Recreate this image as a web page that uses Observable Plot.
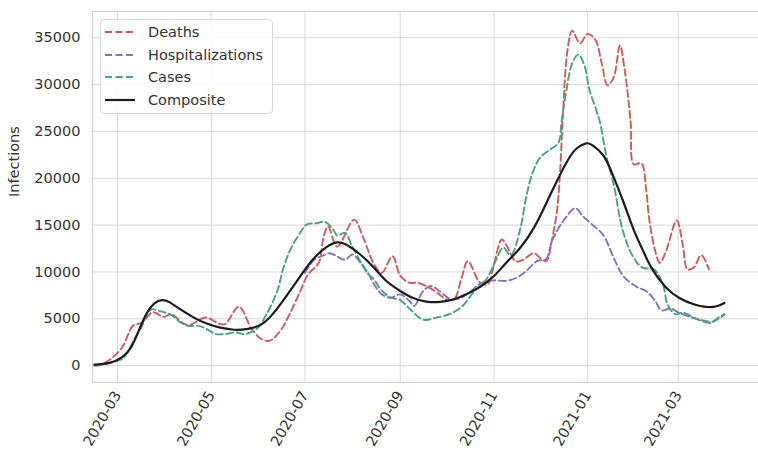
<!DOCTYPE html>
<html><head><meta charset="utf-8">
<script src="https://cdn.jsdelivr.net/npm/d3@7"></script>
<script src="https://cdn.jsdelivr.net/npm/@observablehq/plot@0.6"></script>
<style>
body{margin:0;background:#fff;}
#wrap{position:relative;width:758px;height:451px;font-family:"DejaVu Sans",sans-serif;}
#legend{position:absolute;left:100px;top:19px;width:173px;height:95px;border:1px solid #d8d8d8;border-radius:4px;background:rgba(255,255,255,0.85);box-sizing:border-box;}
.row{position:absolute;left:0;height:22px;display:flex;align-items:center;font-size:14.5px;color:#333;white-space:nowrap;}
.row svg{margin-left:4px;margin-right:13px;}
</style></head>
<body><div id="wrap"><div id="legend"></div></div>
<script>
// ---- data ----
const seriesNames = ["Deaths", "Hospitalizations", "Cases", "Composite"];
const seriesColors = ["#d4595d", "#8474b8", "#45a57a", "#1c1c1c"];

const deathDates = ["2020-02-15","2020-02-19","2020-02-24","2020-03-04","2020-03-08","2020-03-11","2020-03-17","2020-03-24","2020-03-31","2020-04-05","2020-04-13","2020-04-17","2020-04-24","2020-04-28","2020-05-06","2020-05-10","2020-05-19","2020-05-27","2020-06-02","2020-06-08","2020-06-15","2020-06-21","2020-06-28","2020-07-03","2020-07-10","2020-07-13","2020-07-16","2020-07-22","2020-08-02","2020-08-08","2020-08-15","2020-08-20","2020-08-27","2020-09-01","2020-09-07","2020-09-12","2020-09-18","2020-09-25","2020-10-01","2020-10-06","2020-10-11","2020-10-15","2020-10-23","2020-10-28","2020-11-01","2020-11-06","2020-11-09","2020-11-15","2020-11-20","2020-11-27","2020-12-01","2020-12-05","2020-12-09","2020-12-12","2020-12-14","2020-12-16","2020-12-19","2020-12-22","2020-12-27","2021-01-01","2021-01-06","2021-01-10","2021-01-14","2021-01-18","2021-01-22","2021-01-25","2021-01-29","2021-01-31","2021-02-05","2021-02-08","2021-02-10","2021-02-14","2021-02-17","2021-02-21","2021-02-28","2021-03-04","2021-03-07","2021-03-11","2021-03-16","2021-03-21"];
const deathValues = [0,150,530,1940,3370,4250,4600,5700,5200,5490,4490,4350,4960,5130,4490,4430,6300,4000,2900,2660,3720,5490,7970,9740,10970,13630,14870,12700,15580,13630,10800,9910,11680,9600,8850,8850,8500,7790,7080,7080,9380,11150,8850,8700,10800,13460,12900,11150,11300,12000,11500,11150,13630,16460,20500,27080,33800,35760,34400,35400,34800,32390,29920,30800,34170,31680,26020,21500,21590,18940,15750,12210,10970,12210,15500,12800,10270,10440,11800,10270];

const hospDates = ["2020-07-01","2020-07-07","2020-07-12","2020-07-17","2020-07-22","2020-07-27","2020-08-01","2020-08-06","2020-08-11","2020-08-15","2020-08-20","2020-08-26","2020-09-01","2020-09-07","2020-09-10","2020-09-16","2020-09-21","2020-09-27","2020-10-04","2020-10-10","2020-10-16","2020-10-23","2020-11-01","2020-11-09","2020-11-16","2020-11-22","2020-11-29","2020-12-05","2020-12-09","2020-12-16","2020-12-24","2020-12-29","2021-01-04","2021-01-11","2021-01-18","2021-01-24","2021-02-02","2021-02-08","2021-02-14","2021-02-18","2021-02-24","2021-03-02","2021-03-15","2021-03-23","2021-03-27","2021-03-31"];
const hospValues = [9900,11300,11700,12000,11650,11300,11860,11000,9910,8680,7610,7250,7600,6900,6370,7970,8500,7900,7080,7200,7800,8750,9100,9050,9400,10100,11150,11400,13400,15400,16800,15930,15050,13990,11500,9600,8400,7970,6900,5900,6100,5600,4900,4700,5000,5400];

const caseDates = ["2020-02-15","2020-02-20","2020-02-26","2020-03-04","2020-03-08","2020-03-12","2020-03-17","2020-03-20","2020-03-23","2020-03-28","2020-04-01","2020-04-06","2020-04-11","2020-04-16","2020-04-23","2020-04-28","2020-05-04","2020-05-10","2020-05-17","2020-05-23","2020-05-31","2020-06-06","2020-06-13","2020-06-17","2020-06-22","2020-06-28","2020-07-02","2020-07-09","2020-07-14","2020-07-19","2020-07-22","2020-07-27","2020-08-01","2020-08-06","2020-08-11","2020-08-15","2020-08-19","2020-08-26","2020-09-01","2020-09-07","2020-09-16","2020-09-25","2020-10-04","2020-10-12","2020-10-19","2020-10-27","2020-11-03","2020-11-07","2020-11-12","2020-11-18","2020-11-22","2020-11-26","2020-12-01","2020-12-07","2020-12-13","2020-12-15","2020-12-18","2020-12-22","2020-12-26","2020-12-30","2021-01-02","2021-01-07","2021-01-09","2021-01-13","2021-01-18","2021-01-24","2021-01-31","2021-02-06","2021-02-13","2021-02-19","2021-02-22","2021-02-27","2021-03-04","2021-03-11","2021-03-22","2021-03-27","2021-03-31"];
const caseValues = [0,100,350,710,1590,2830,4250,5490,6020,5840,5660,5310,4600,4250,4250,3900,3370,3370,3540,3370,4000,5490,7970,10440,12560,14200,15050,15220,15350,14600,13900,14160,12650,11150,9800,9200,8200,7250,7000,6100,4900,5150,5550,6450,7900,9200,11500,12600,11800,14500,18000,20500,22200,23000,23800,26000,29200,32300,33200,32000,29560,27080,26000,22500,19300,14340,11500,10440,10300,8680,6550,5490,5660,5130,4550,5130,5490];

const compDates = ["2020-02-15","2020-02-25","2020-03-04","2020-03-10","2020-03-15","2020-03-20","2020-03-25","2020-03-30","2020-04-04","2020-04-11","2020-04-20","2020-04-28","2020-05-07","2020-05-16","2020-05-24","2020-06-02","2020-06-10","2020-06-19","2020-06-28","2020-07-06","2020-07-15","2020-07-22","2020-07-28","2020-08-06","2020-08-15","2020-08-23","2020-09-01","2020-09-09","2020-09-18","2020-09-27","2020-10-06","2020-10-14","2020-10-23","2020-11-01","2020-11-09","2020-11-18","2020-11-27","2020-12-05","2020-12-12","2020-12-19","2020-12-25","2020-12-31","2021-01-04","2021-01-11","2021-01-17","2021-01-24","2021-01-31","2021-02-06","2021-02-12","2021-02-21","2021-03-02","2021-03-11","2021-03-19","2021-03-26","2021-03-31"];
const compValues = [100,300,900,2000,3800,5600,6650,7000,6750,6000,5100,4500,4050,3830,3900,4350,5500,7450,9550,11300,12650,13150,12900,11860,10440,9030,7970,7250,6830,6800,7080,7610,8400,9560,10970,12560,14700,17300,19700,21900,23200,23720,23540,22480,20500,17600,14500,12300,10300,8350,7190,6550,6270,6340,6690];

const xDomain = ["2020-02-13T17:00Z", "2021-04-22T05:00Z"];
const yDomain = [-1800, 37800];
const xTicks = ["2020-03-01","2020-05-01","2020-07-01","2020-09-01","2020-11-01","2021-01-01","2021-03-01"];
const yTicks = [0,5000,10000,15000,20000,25000,30000,35000];
const yLabel = "Infections";

// ---- build ----
const toRows = (dates, values) => dates.map((d, i) => ({date: new Date(d), value: values[i]}));
const series = [
  toRows(deathDates, deathValues),
  toRows(hospDates, hospValues),
  toRows(caseDates, caseValues),
  toRows(compDates, compValues)
];
const dashed = [true, true, true, false];

const chart = Plot.plot({
  width: 758, height: 451,
  marginLeft: 92, marginRight: 0, marginTop: 11, marginBottom: 69,
  style: {fontFamily: "'DejaVu Sans', sans-serif", fontSize: "14.5px", color: "#333", background: "white"},
  x: {type: "utc", domain: xDomain.map(d => new Date(d))},
  y: {domain: yDomain},
  marks: [
    Plot.gridX(xTicks.map(d => new Date(d)), {stroke: "#d9d9d9", strokeOpacity: 1, strokeWidth: 1}),
    Plot.gridY(yTicks, {stroke: "#d9d9d9", strokeOpacity: 1, strokeWidth: 1}),
    Plot.frame({stroke: "#d0d0d0"}),
    Plot.axisX(xTicks.map(d => new Date(d)), {tickSize: 0, tickPadding: 10, tickRotate: -60, tickFormat: d3.utcFormat("%Y-%m"), label: null}),
    Plot.axisY(yTicks, {tickSize: 0, tickPadding: 12, tickFormat: d => String(d), label: null}),
    Plot.text([yLabel], {frameAnchor: "left", dx: -78, rotate: -90, text: d => d, fontSize: 14.5}),
    ...series.map((rows, i) => Plot.line(rows, {
      x: "date", y: "value", stroke: seriesColors[i],
      strokeWidth: dashed[i] ? 1.9 : 2.2,
      strokeDasharray: dashed[i] ? "7,3.5" : null,
      curve: dashed[i] ? "catmull-rom" : "natural"
    }))
  ]
});
const wrap = document.getElementById("wrap");
wrap.insertBefore(chart, wrap.firstChild);
chart.style.display = "block";

const legend = document.getElementById("legend");
seriesNames.forEach((name, i) => {
  const row = document.createElement("div");
  row.className = "row";
  row.style.top = (1 + i * 22.7) + "px";
  row.innerHTML = `<svg width="30" height="6"><line x1="0" y1="3" x2="30" y2="3" stroke="${seriesColors[i]}" stroke-width="${dashed[i] ? 1.9 : 2.2}" ${dashed[i] ? 'stroke-dasharray="7,3.5"' : ''}/></svg><span>${name}</span>`;
  legend.appendChild(row);
});
</script>
</body></html>
